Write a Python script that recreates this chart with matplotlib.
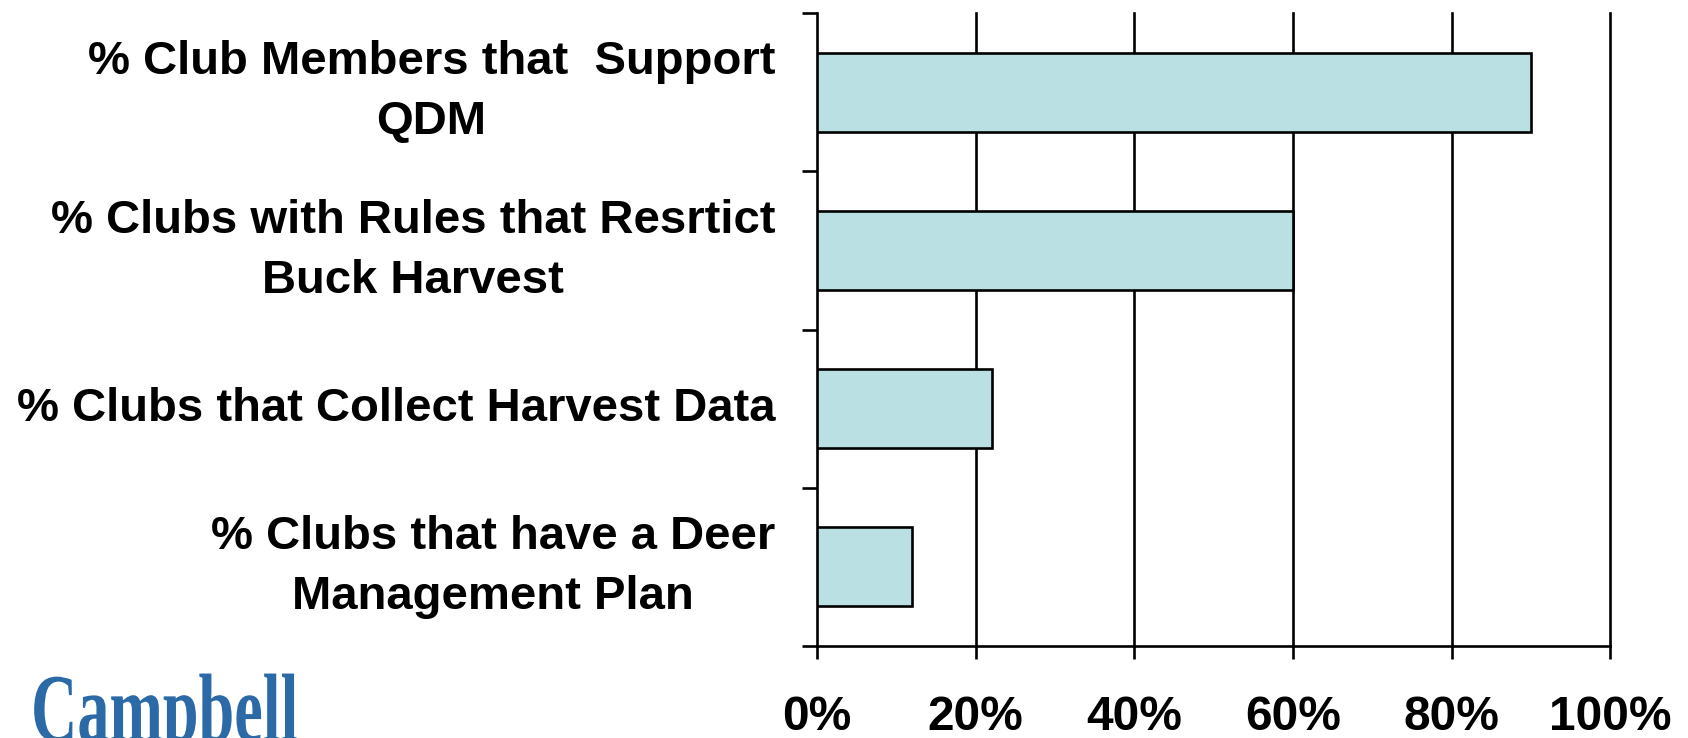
import numpy as np
import matplotlib
matplotlib.use('Agg')
import matplotlib.pyplot as plt
import matplotlib.patheffects as pe
from matplotlib.ticker import FixedLocator
from matplotlib.transforms import Affine2D

# Data
#================================================================
categorias = ['% Club Members that  Support\nQDM',
              '% Clubs with Rules that Resrtict\nBuck Harvest',
              '% Clubs that Collect Harvest Data',
              '% Clubs that have a Deer\nManagement Plan']
valores = [0.90, 0.60, 0.22, 0.12]
xticks = [0.0, 0.2, 0.4, 0.6, 0.8, 1.0]
xtick_labels = ['0%', '20%', '40%', '60%', '80%', '100%']

LW = 1.9


# path effect that squeezes the text horizontally (logo font is condensed)
class Squeeze(pe.AbstractPathEffect):
    def __init__(self, sx, x0):
        super().__init__()
        self.sx = sx
        self.x0 = x0

    def draw_path(self, renderer, gc, tpath, affine, rgbFace=None):
        aff = affine + Affine2D().translate(-self.x0, 0).scale(self.sx, 1).translate(self.x0, 0)
        renderer.draw_path(gc, tpath, aff, rgbFace)


# Figure
#================================================================
fig = plt.figure(figsize=(16.88, 7.38), dpi=100)
ax = fig.add_axes([0.484, 0.1247, 0.954 - 0.484, 0.982 - 0.1247])

y = np.arange(len(categorias))
ax.barh(y, valores, height=0.5, color='#bae0e3', edgecolor='black', linewidth=LW, zorder=3)

ax.set_xlim(0, 1)
ax.set_ylim(len(categorias) - 0.5, -0.5)

# vertical grid
for xv in xticks[1:]:
    ax.axvline(xv, color='black', linewidth=LW, zorder=1, clip_on=False)

for s in ['top', 'right']:
    ax.spines[s].set_visible(False)
for s in ['left', 'bottom']:
    ax.spines[s].set_linewidth(LW)

ax.set_xticks(xticks)
ax.set_xticklabels(xtick_labels, fontsize=34.5, fontweight='bold', family='Liberation Sans')
ax.tick_params(axis='x', direction='out', length=9.5, width=LW, pad=26)

ax.set_yticks(y)
ax.set_yticklabels(categorias, fontsize=34, fontweight='bold', family='Liberation Sans',
                   multialignment='center', linespacing=1.47, va='center')
ax.tick_params(axis='y', which='major', length=0, pad=30)
ax.yaxis.set_minor_locator(FixedLocator(np.arange(-0.5, len(categorias) + 0.5, 1.0)))
ax.tick_params(axis='y', which='minor', direction='out', length=11, width=LW)

# logo text
x_logo = 31
fig.text(x_logo / 1688, -3 / 738, 'Campbell', fontsize=70, family='Liberation Serif',
         fontweight='bold', color='#2b6aa6', ha='left', va='baseline',
         path_effects=[Squeeze(0.66, x_logo)])

plt.savefig('out.png', dpi=100)
plt.close()
